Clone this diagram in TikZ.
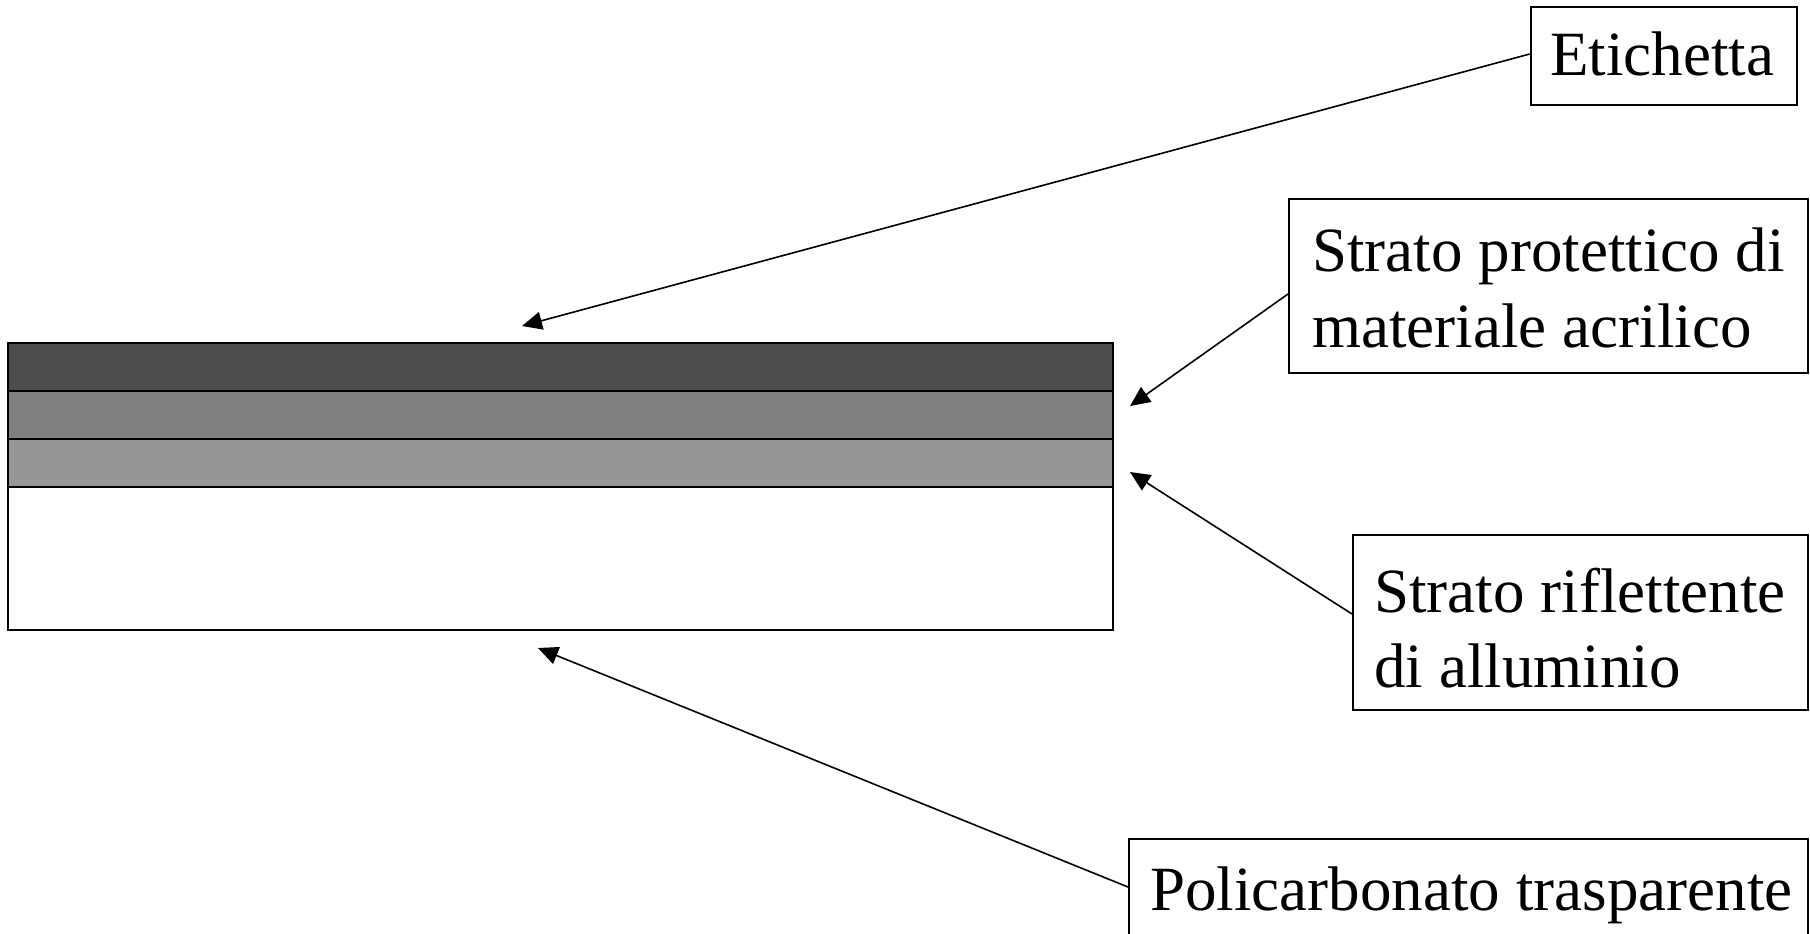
\documentclass[tikz,border=0pt]{standalone}
\usepackage{fontspec}
\setmainfont{Liberation Serif}
\usetikzlibrary{arrows.meta}
\definecolor{layerA}{RGB}{77,77,77}
\definecolor{layerB}{RGB}{128,128,128}
\definecolor{layerC}{RGB}{150,150,150}
\begin{document}
\begin{tikzpicture}[x=0.5pt,y=-0.5pt,
  labelbox/.style={draw, line width=1pt, rectangle, inner sep=0pt},
  labeltext/.style={inner sep=0pt, anchor=base west, font=\fontsize{31.5pt}{38pt}\selectfont},
  pointer/.style={line width=0.8pt, -{Triangle[length=10pt,width=9pt]}},
  layer/.style={draw=black, line width=1pt}]
\clip (0,0) rectangle (1810,933);
\fill[white] (0,0) rectangle (1810,933);
% disc cross-section
\filldraw[layer, fill=white]  (8,487) rectangle (1113,630);
\filldraw[layer, fill=layerC] (8,439) rectangle (1113,487);
\filldraw[layer, fill=layerB] (8,391) rectangle (1113,439);
\filldraw[layer, fill=layerA] (8,343) rectangle (1113,391);
% pointer tips
\coordinate (t1) at (522,326);
\coordinate (t2) at (1130,406);
\coordinate (t3) at (1130,472);
\coordinate (t4) at (538,648);
% label boxes
\node[labelbox, minimum width=133pt, minimum height=49.3pt] (eti) at (1663.7,56) {};
\node[labelbox, minimum width=259.5pt, minimum height=87pt] (prot) at (1548.5,286) {};
\node[labelbox, minimum width=227.5pt, minimum height=87.5pt] (rifl) at (1580.5,622.5) {};
\node[labelbox, minimum width=339.5pt, minimum height=52.7pt] (poli) at (1468.5,891.7) {};
% texts
\node[labeltext] (etitext) at (1550,75) {Etichetta};
\node[labeltext] (prottexta) at (1312,271) {Strato protettico di};
\node[labeltext] (prottextb) at (1312,347) {materiale acrilico};
\node[labeltext] (rifltexta) at (1374,612) {Strato riflettente};
\node[labeltext] (rifltextb) at (1374,687) {di alluminio};
\node[labeltext] (politext) at (1150,910.7) {Policarbonato trasparente};
% pointers
\draw[pointer] ([yshift=1pt]eti.west) -- (t1);
\draw[pointer] ([yshift=-4pt]prot.west) -- (t2);
\draw[pointer] ([yshift=4.25pt]rifl.west) -- (t3);
\draw[pointer] ([yshift=2.35pt]poli.west) -- (t4);
\end{tikzpicture}
\end{document}
